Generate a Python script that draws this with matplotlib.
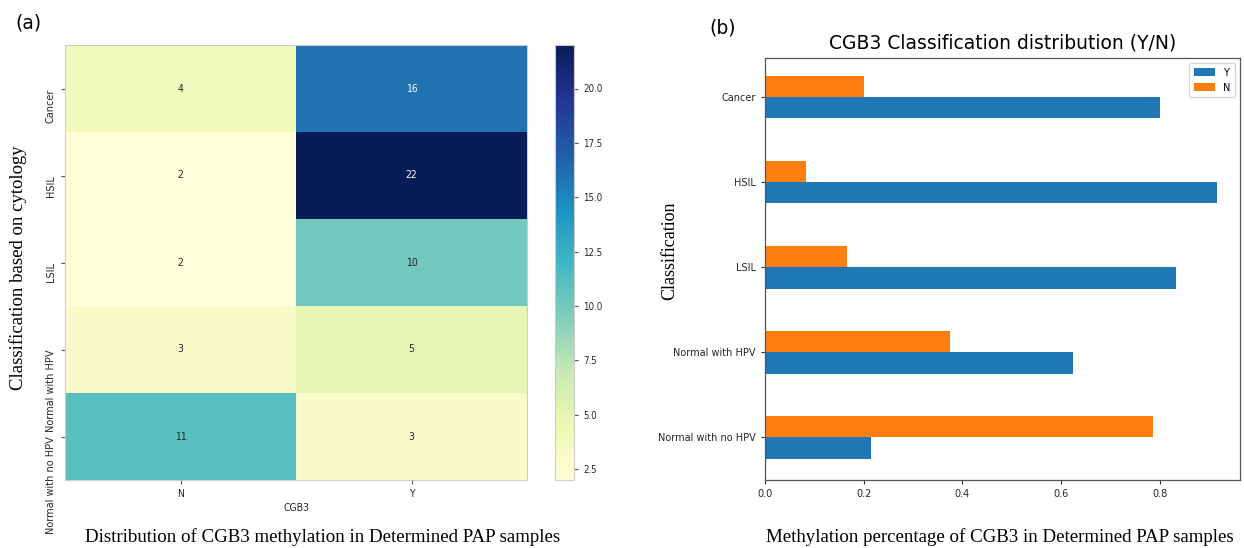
import numpy as np
import matplotlib.pyplot as plt
from matplotlib.ticker import FixedLocator, FormatStrFormatter

classes = ["Cancer", "HSIL", "LSIL", "Normal with HPV", "Normal with no HPV"]
cgb3 = ["N", "Y"]
count_n = np.array([4, 2, 2, 3, 11])
count_y = np.array([16, 22, 10, 5, 3])

counts = np.column_stack([count_n, count_y])
totals = counts.sum(axis=1)
frac_y = count_y / totals
frac_n = count_n / totals

W, H = 1244, 548
fig = plt.figure(figsize=(W / 100, H / 100), dpi=100)
fig.patch.set_facecolor("white")

def px_axes(x0, y0, x1, y1):
    return fig.add_axes([x0 / W, 1 - y1 / H, (x1 - x0) / W, (y1 - y0) / H])

serif = "Liberation Serif"
narrow = dict(family="DejaVu Sans", fontstretch="condensed")

# ---- (a) heatmap of counts ----
ax = px_axes(65, 45, 527, 480)
cax = px_axes(555, 45, 574, 480)
cmap = plt.get_cmap("YlGnBu")
vmin, vmax = 2, 22
mesh = ax.pcolormesh(counts, cmap=cmap, vmin=vmin, vmax=vmax)
ax.set_xlim(0, 2)
ax.set_ylim(len(classes), 0)
for i in range(len(classes)):
    for j in range(2):
        v = counts[i, j]
        r, g, b, _ = cmap((v - vmin) / (vmax - vmin))
        lum = 0.2126 * r + 0.7152 * g + 0.0722 * b
        ax.text(j + 0.5, i + 0.5, str(v), ha="center", va="center", fontsize=7.5,
                color="white" if lum < 0.4 else "#262626", **narrow)
ax.set_xticks(np.arange(2) + 0.5)
ax.set_xticklabels(cgb3, fontsize=7.5, **narrow)
ax.set_yticks(np.arange(len(classes)) + 0.5)
ax.set_yticklabels(classes, fontsize=7)
for lab in ax.get_yticklabels():
    # label ends at its tick and runs downward
    lab.set_rotation(90)
    lab.set_rotation_mode("anchor")
    lab.set_ha("right")
    lab.set_va("bottom")
ax.tick_params(length=3, color="#555555", labelcolor="#262626")
ax.set_xlabel("CGB3", fontsize=7.5, color="#262626", labelpad=3, **narrow)
for s in ax.spines.values():
    s.set_color("#cccccc")
    s.set_linewidth(0.8)

cb = fig.colorbar(mesh, cax=cax)
cb.set_ticks(np.arange(2.5, 21, 2.5))
cb.ax.yaxis.set_major_formatter(FormatStrFormatter("%.1f"))
cb.ax.tick_params(labelsize=7, length=3, color="#555555", labelcolor="#262626")
for lab in cb.ax.get_yticklabels():
    lab.set_fontstretch("condensed")
cb.outline.set_edgecolor("#cccccc")
cb.outline.set_linewidth(0.8)

fig.text(18 / W, 1 - 268 / H, "Classification based on cytology", family=serif,
         fontsize=13.5, rotation=90, ha="center", va="center")
fig.text(323 / W, 1 - 537 / H, "Distribution of CGB3 methylation in Determined PAP samples",
         family=serif, fontsize=13.6, ha="center", va="center")
fig.text(15 / W, 1 - 23 / H, "(a)", fontsize=13.5, ha="left", va="center")

# ---- (b) horizontal bars of fractions ----
bx = px_axes(765, 58, 1240, 480)
pos = np.arange(len(classes))
h = 0.25
bx.barh(pos + h / 2, frac_y, height=h, color="#1f77b4", label="Y")
bx.barh(pos - h / 2, frac_n, height=h, color="#ff7f0e", label="N")
bx.set_ylim(len(classes) - 0.5, -0.46)
bx.set_xlim(0, max(frac_y.max(), frac_n.max()) * 1.05)
bx.set_yticks(pos)
bx.set_yticklabels(classes, fontsize=7)
bx.xaxis.set_major_locator(FixedLocator([0.0, 0.2, 0.4, 0.6, 0.8]))
bx.xaxis.set_major_formatter(FormatStrFormatter("%.1f"))
bx.tick_params(labelsize=7, length=3, color="#333333", labelcolor="#262626")
bx.set_title("CGB3 Classification distribution (Y/N)", fontsize=13.5, pad=7)
bx.legend(loc="upper right", fontsize=7, handlelength=2.2, handleheight=0.9,
          borderpad=0.5, labelspacing=0.5)
for s in bx.spines.values():
    s.set_color("#555555")
    s.set_linewidth(0.9)

fig.text(670 / W, 1 - 251 / H, "Classification", family=serif,
         fontsize=13, rotation=90, ha="center", va="center")
fig.text(1000 / W, 1 - 537 / H, "Methylation percentage of CGB3 in Determined PAP samples",
         family=serif, fontsize=13.6, ha="center", va="center")
fig.text(709 / W, 1 - 28 / H, "(b)", fontsize=13.5, ha="left", va="center")

fig.savefig("out.png", dpi=100)
